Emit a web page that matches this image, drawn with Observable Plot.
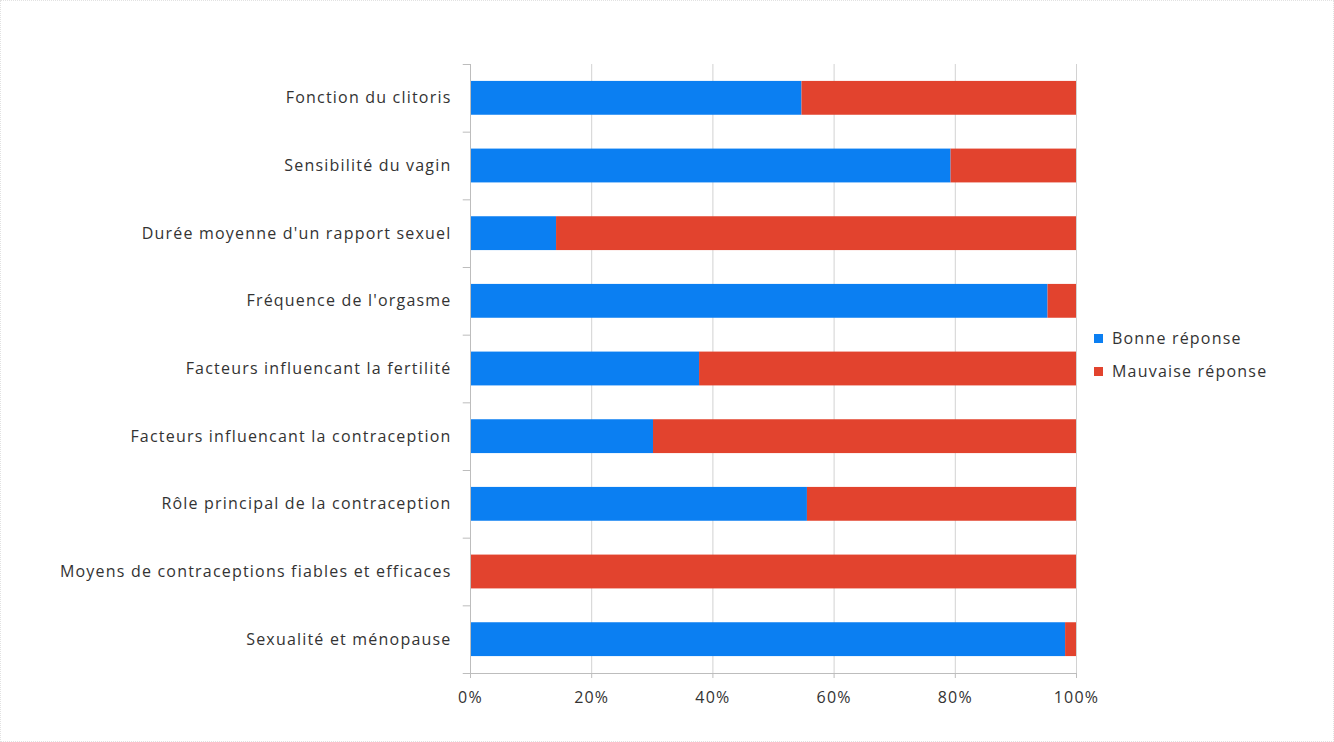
<!DOCTYPE html>
<html>
<head>
<meta charset="utf-8">
<script src="https://cdn.jsdelivr.net/npm/d3@7"></script>
<script src="https://cdn.jsdelivr.net/npm/@observablehq/plot@0.6"></script>
<style>
  html, body { margin: 0; padding: 0; background: #fff; }
  #wrap { position: relative; width: 1334px; height: 742px; overflow: hidden;
          font-family: "Open Sans", sans-serif; }
  #frame { position: absolute; left: 0; top: 0; width: 1332px; height: 740px;
           border: 1px dotted #e2e2e2; pointer-events: none; }
  #chart { position: absolute; left: 0; top: 0; }
  #legend { position: absolute; left: 1094px; top: 327px; font-size: 16px; letter-spacing: 1.2px; color: #333; }
  #legend .item { display: flex; align-items: center; height: 22px; margin-bottom: 11px; }
  #legend .sw { width: 9px; height: 9px; margin-right: 9px; }
</style>
</head>
<body>
<div id="wrap">
  <div id="chart"></div>
  <div id="legend"></div>
  <div id="frame"></div>
</div>
<script>
const categories = [
  "Fonction du clitoris",
  "Sensibilité du vagin",
  "Durée moyenne d'un rapport sexuel",
  "Fréquence de l'orgasme",
  "Facteurs influencant la fertilité",
  "Facteurs influencant la contraception",
  "Rôle principal de la contraception",
  "Moyens de contraceptions fiables et efficaces",
  "Sexualité et ménopause"
];
const seriesNames = ["Bonne réponse", "Mauvaise réponse"];
const bonne    = [54.7, 79.3, 14.2, 95.3, 37.8, 30.2, 55.6, 0, 98.2];
const mauvaise = [45.3, 20.7, 85.8, 4.7, 62.2, 69.8, 44.4, 100, 1.8];
const xTicks = [0, 0.2, 0.4, 0.6, 0.8, 1];
const colors = ["#0b7ff2", "#e2432e"];

const data = [];
categories.forEach((c, i) => data.push({cat: c, series: seriesNames[0], value: bonne[i] / 100}));
categories.forEach((c, i) => data.push({cat: c, series: seriesNames[1], value: mauvaise[i] / 100}));

const W = 1334, H = 716, mT = 64, mB = H - 673, mL = 470, mR = W - 1076;
const step = (H - mT - mB) / categories.length;
const gray = "#bdbdbd";

const chart = Plot.plot({
  width: W,
  height: H,
  marginTop: mT,
  marginBottom: mB,
  marginLeft: mL,
  marginRight: mR,
  style: {fontFamily: "Open Sans, sans-serif", fontSize: "16px", letterSpacing: "1.2px", color: "#333", background: "transparent"},
  x: {domain: [0, 1], ticks: xTicks, tickFormat: d3.format(".0%"), label: null},
  y: {domain: categories, paddingInner: 0.5, paddingOuter: 0.25, round: false, label: null},
  color: {domain: seriesNames, range: colors},
  marks: [
    Plot.gridX(xTicks.slice(1), {stroke: "#d2d2d2", strokeOpacity: 1, strokeWidth: 1}),
    Plot.barX(data, {x: "value", y: "cat", fill: "series", order: seriesNames}),
    Plot.ruleX([0], {stroke: gray, strokeWidth: 1}),
    Plot.ruleY(categories, {y: d => d, dy: -step / 2, x1: -0.012, x2: 0, stroke: gray}),
    Plot.ruleY(categories.slice(-1), {y: d => d, dy: step / 2, x1: -0.012, x2: 0, stroke: gray}),
    Plot.ruleY(categories.slice(-1), {y: d => d, dy: step / 2, x1: 0, x2: 1, stroke: gray}),
    Plot.axisX({ticks: xTicks, tickFormat: d3.format(".0%"), tickSize: 5, tickPadding: 13, stroke: gray, fontSize: 16, label: null}),
    Plot.axisY({tickSize: 0, tickPadding: 19, fontSize: 16, label: null})
  ]
});
document.getElementById("chart").appendChild(chart);

const legend = document.getElementById("legend");
seriesNames.forEach((s, i) => {
  const item = document.createElement("div");
  item.className = "item";
  const sw = document.createElement("span");
  sw.className = "sw";
  sw.style.background = colors[i];
  const t = document.createElement("span");
  t.textContent = s;
  item.appendChild(sw);
  item.appendChild(t);
  legend.appendChild(item);
});
</script>
</body>
</html>
